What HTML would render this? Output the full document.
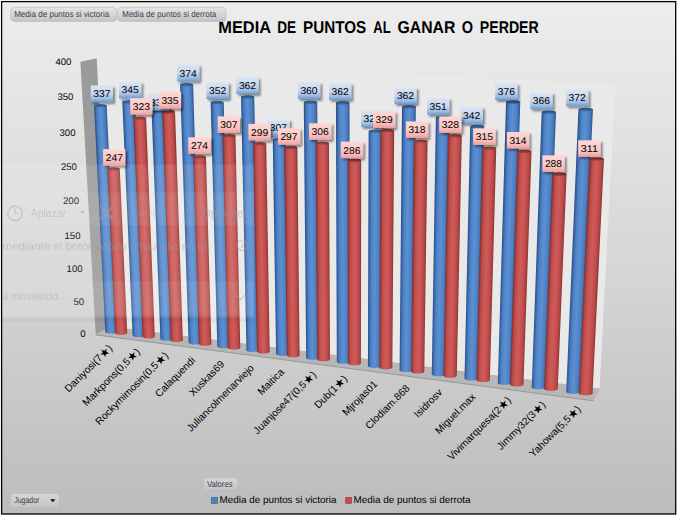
<!DOCTYPE html>
<html><head><meta charset="utf-8"><title>Media de puntos al ganar o perder</title>
<style>
html,body{margin:0;padding:0;background:#fff;}
svg{display:block;font-family:"Liberation Sans",sans-serif;text-rendering:geometricPrecision;}
.dl{font-size:9.9px;fill:#000;}
.ax{font-size:9.6px;fill:#000;}
.xl{font-size:10.25px;}
.st{font-size:11.6px;}
.bt{font-size:8.7px;fill:#38414f;}
.lg{font-size:9.9px;fill:#000;}
.tt{font-size:17.1px;font-weight:bold;fill:#000;}
.gh{font-size:11.5px;fill:#a2a2a2;}
</style></head><body>
<svg width="677" height="516" viewBox="0 0 677 516">
<defs>
<linearGradient id="bg" x1="0" y1="0" x2="0" y2="1"><stop offset="0" stop-color="#ededed"/><stop offset="0.5" stop-color="#d7d7d7"/><stop offset="1" stop-color="#bcbcbc"/></linearGradient>
<linearGradient id="gb" x1="0" y1="0" x2="1" y2="0"><stop offset="0" stop-color="#244c86"/><stop offset="0.1" stop-color="#3a67a6"/><stop offset="0.25" stop-color="#4f83c7"/><stop offset="0.5" stop-color="#5b90d3"/><stop offset="0.78" stop-color="#4d80c3"/><stop offset="0.9" stop-color="#3f6eae"/><stop offset="1" stop-color="#2c5690"/></linearGradient>
<linearGradient id="gr" x1="0" y1="0" x2="1" y2="0"><stop offset="0" stop-color="#7c2c2a"/><stop offset="0.1" stop-color="#a23f3d"/><stop offset="0.25" stop-color="#c3504e"/><stop offset="0.5" stop-color="#d05c5a"/><stop offset="0.78" stop-color="#bf4d4b"/><stop offset="0.9" stop-color="#a9423f"/><stop offset="1" stop-color="#8a3331"/></linearGradient>
<linearGradient id="tb" x1="0" y1="0" x2="1" y2="0"><stop offset="0" stop-color="#2e5890"/><stop offset="0.5" stop-color="#3d6ba7"/><stop offset="1" stop-color="#2b548b"/></linearGradient>
<linearGradient id="tr" x1="0" y1="0" x2="1" y2="0"><stop offset="0" stop-color="#903836"/><stop offset="0.5" stop-color="#a54341"/><stop offset="1" stop-color="#873331"/></linearGradient>
<linearGradient id="lb" x1="0" y1="0" x2="0" y2="1"><stop offset="0" stop-color="#dae5f3"/><stop offset="0.5" stop-color="#c4d6ee"/><stop offset="0.8" stop-color="#9dbce4"/><stop offset="1" stop-color="#6c9ad4"/></linearGradient>
<linearGradient id="lr" x1="0" y1="0" x2="0" y2="1"><stop offset="0" stop-color="#ffd6d4"/><stop offset="0.5" stop-color="#fccac8"/><stop offset="0.8" stop-color="#f6b8b5"/><stop offset="1" stop-color="#eb9e9b"/></linearGradient>
<linearGradient id="btn" x1="0" y1="0" x2="0" y2="1"><stop offset="0" stop-color="#e6e6e6"/><stop offset="0.5" stop-color="#d6d6d6"/><stop offset="1" stop-color="#c2c2c2"/></linearGradient>
<linearGradient id="btn2" x1="0" y1="0" x2="0" y2="1"><stop offset="0" stop-color="#d6d6d6"/><stop offset="1" stop-color="#c6c6c6"/></linearGradient>
<filter id="sh" x="-20%" y="-20%" width="150%" height="160%"><feDropShadow dx="2" dy="2" stdDeviation="1.3" flood-color="#000" flood-opacity="0.45"/></filter>
<linearGradient id="c0" href="#gb" gradientUnits="userSpaceOnUse" x1="99.67" y1="218.98" x2="112.02" y2="218.38"/>
<linearGradient id="c1" href="#gr" gradientUnits="userSpaceOnUse" x1="111.16" y1="251.21" x2="123.48" y2="250.64"/>
<linearGradient id="c2" href="#gb" gradientUnits="userSpaceOnUse" x1="127.47" y1="218.84" x2="139.93" y2="218.30"/>
<linearGradient id="c3" href="#gr" gradientUnits="userSpaceOnUse" x1="137.97" y1="227.60" x2="150.45" y2="227.09"/>
<linearGradient id="c4" href="#gb" gradientUnits="userSpaceOnUse" x1="156.00" y1="225.11" x2="168.56" y2="224.64"/>
<linearGradient id="c5" href="#gr" gradientUnits="userSpaceOnUse" x1="166.33" y1="226.11" x2="178.92" y2="225.66"/>
<linearGradient id="c6" href="#gb" gradientUnits="userSpaceOnUse" x1="184.37" y1="213.83" x2="197.07" y2="213.42"/>
<linearGradient id="c7" href="#gr" gradientUnits="userSpaceOnUse" x1="196.01" y1="250.68" x2="208.66" y2="250.30"/>
<linearGradient id="c8" href="#gb" gradientUnits="userSpaceOnUse" x1="213.99" y1="224.56" x2="226.77" y2="224.23"/>
<linearGradient id="c9" href="#gr" gradientUnits="userSpaceOnUse" x1="225.08" y1="241.87" x2="237.87" y2="241.57"/>
<linearGradient id="c10" href="#gb" gradientUnits="userSpaceOnUse" x1="243.75" y1="223.71" x2="256.65" y2="223.45"/>
<linearGradient id="c11" href="#gr" gradientUnits="userSpaceOnUse" x1="255.06" y1="247.74" x2="267.95" y2="247.51"/>
<linearGradient id="c12" href="#gb" gradientUnits="userSpaceOnUse" x1="274.42" y1="246.77" x2="287.38" y2="246.59"/>
<linearGradient id="c13" href="#gr" gradientUnits="userSpaceOnUse" x1="285.48" y1="251.52" x2="298.47" y2="251.36"/>
<linearGradient id="c14" href="#gb" gradientUnits="userSpaceOnUse" x1="304.99" y1="230.19" x2="318.11" y2="230.08"/>
<linearGradient id="c15" href="#gr" gradientUnits="userSpaceOnUse" x1="316.37" y1="251.30" x2="329.48" y2="251.23"/>
<linearGradient id="c16" href="#gb" gradientUnits="userSpaceOnUse" x1="336.38" y1="232.37" x2="349.62" y2="232.35"/>
<linearGradient id="c17" href="#gr" gradientUnits="userSpaceOnUse" x1="347.85" y1="261.84" x2="361.05" y2="261.85"/>
<linearGradient id="c18" href="#gb" gradientUnits="userSpaceOnUse" x1="368.28" y1="248.59" x2="381.60" y2="248.64"/>
<linearGradient id="c19" href="#gr" gradientUnits="userSpaceOnUse" x1="379.89" y1="248.96" x2="393.25" y2="249.04"/>
<linearGradient id="c20" href="#gb" gradientUnits="userSpaceOnUse" x1="400.82" y1="238.39" x2="414.28" y2="238.54"/>
<linearGradient id="c21" href="#gr" gradientUnits="userSpaceOnUse" x1="412.46" y1="256.30" x2="425.92" y2="256.47"/>
<linearGradient id="c22" href="#gb" gradientUnits="userSpaceOnUse" x1="433.82" y1="245.72" x2="447.39" y2="245.95"/>
<linearGradient id="c23" href="#gr" gradientUnits="userSpaceOnUse" x1="445.69" y1="255.71" x2="459.28" y2="255.98"/>
<linearGradient id="c24" href="#gb" gradientUnits="userSpaceOnUse" x1="467.36" y1="252.39" x2="481.04" y2="252.71"/>
<linearGradient id="c25" href="#gr" gradientUnits="userSpaceOnUse" x1="479.35" y1="264.01" x2="493.04" y2="264.37"/>
<linearGradient id="c26" href="#gb" gradientUnits="userSpaceOnUse" x1="501.95" y1="242.29" x2="515.79" y2="242.72"/>
<linearGradient id="c27" href="#gr" gradientUnits="userSpaceOnUse" x1="513.68" y1="267.77" x2="527.49" y2="268.22"/>
<linearGradient id="c28" href="#gb" gradientUnits="userSpaceOnUse" x1="536.72" y1="249.47" x2="550.66" y2="250.00"/>
<linearGradient id="c29" href="#gr" gradientUnits="userSpaceOnUse" x1="548.24" y1="281.36" x2="562.15" y2="281.91"/>
<linearGradient id="c30" href="#gb" gradientUnits="userSpaceOnUse" x1="572.34" y1="250.36" x2="586.41" y2="250.99"/>
<linearGradient id="c31" href="#gr" gradientUnits="userSpaceOnUse" x1="584.17" y1="275.88" x2="598.22" y2="276.55"/>
</defs>
<rect x="0" y="0" width="677" height="516" fill="#fff"/>
<rect x="1.6" y="1.6" width="674.1" height="512.4" fill="url(#bg)" stroke="#000" stroke-width="1.3"/>
<!-- walls -->
<polygon points="96.7,58.2 615.3,85.2 599.6,388.6 110.2,326.5" fill="#e9e9e9"/>
<polygon points="80.4,61.7 96.7,58.2 110.2,326.5 95.7,334.7" fill="#9b9b9b"/>
<polygon points="95.9,334.7 110.2,326.5 599.6,388.6 593.6,400.6" fill="#b7b7b7"/>
<line x1="95.9" y1="334.9" x2="593.6" y2="400.8" stroke="#979797" stroke-width="1"/>
<!-- cylinders -->
<path d="M94.04,105.63 L105.28,331.73 A6.05,1.9 0 0 0 117.37,331.73 L106.68,105.63 Z" fill="url(#c0)"/><ellipse cx="100.36" cy="105.63" rx="6.32" ry="1.7" fill="url(#tb)"/>
<path d="M107.23,168.84 L115.08,333.01 A6.06,1.9 0 0 0 127.20,333.01 L119.76,168.84 Z" fill="url(#c1)"/><ellipse cx="113.50" cy="168.84" rx="6.26" ry="1.7" fill="url(#tr)"/>
<path d="M122.29,101.84 L132.63,335.30 A6.09,1.9 0 0 0 144.82,335.30 L135.05,101.84 Z" fill="url(#c2)"/><ellipse cx="128.67" cy="101.84" rx="6.38" ry="1.7" fill="url(#tb)"/>
<path d="M133.34,118.09 L142.58,336.60 A6.11,1.9 0 0 0 154.80,336.60 L146.10,118.09 Z" fill="url(#c3)"/><ellipse cx="139.72" cy="118.09" rx="6.38" ry="1.7" fill="url(#tr)"/>
<path d="M151.58,110.83 L160.41,338.93 A6.14,1.9 0 0 0 172.70,338.93 L164.43,110.83 Z" fill="url(#c4)"/><ellipse cx="158.00" cy="110.83" rx="6.42" ry="1.7" fill="url(#tb)"/>
<path d="M162.13,111.53 L170.52,340.25 A6.16,1.9 0 0 0 182.84,340.25 L175.01,111.53 Z" fill="url(#c5)"/><ellipse cx="168.57" cy="111.53" rx="6.44" ry="1.7" fill="url(#tr)"/>
<path d="M180.10,84.64 L188.64,342.61 A6.19,1.9 0 0 0 201.02,342.61 L193.13,84.64 Z" fill="url(#c6)"/><ellipse cx="186.62" cy="84.64" rx="6.51" ry="1.7" fill="url(#tb)"/>
<path d="M193.11,157.03 L198.91,343.95 A6.21,1.9 0 0 0 211.33,343.95 L206.00,157.03 Z" fill="url(#c7)"/><ellipse cx="199.55" cy="157.03" rx="6.44" ry="1.7" fill="url(#tr)"/>
<path d="M210.65,102.44 L217.32,346.35 A6.24,1.9 0 0 0 229.80,346.35 L223.75,102.44 Z" fill="url(#c8)"/><ellipse cx="217.20" cy="102.44" rx="6.55" ry="1.7" fill="url(#tb)"/>
<path d="M222.41,135.72 L227.76,347.71 A6.26,1.9 0 0 0 240.28,347.71 L235.46,135.72 Z" fill="url(#c9)"/><ellipse cx="228.93" cy="135.72" rx="6.53" ry="1.7" fill="url(#tr)"/>
<path d="M241.02,97.01 L246.47,350.16 A6.29,1.9 0 0 0 259.05,350.16 L254.25,97.01 Z" fill="url(#c10)"/><ellipse cx="247.64" cy="97.01" rx="6.61" ry="1.7" fill="url(#tb)"/>
<path d="M253.05,143.71 L257.07,351.54 A6.31,1.9 0 0 0 269.69,351.54 L266.20,143.71 Z" fill="url(#c11)"/><ellipse cx="259.62" cy="143.71" rx="6.57" ry="1.7" fill="url(#tr)"/>
<path d="M272.75,139.34 L276.09,354.02 A6.34,1.9 0 0 0 288.77,354.02 L285.99,139.34 Z" fill="url(#c12)"/><ellipse cx="279.37" cy="139.34" rx="6.62" ry="1.7" fill="url(#tb)"/>
<path d="M284.09,147.45 L286.87,355.43 A6.36,1.9 0 0 0 299.60,355.43 L297.35,147.45 Z" fill="url(#c13)"/><ellipse cx="290.72" cy="147.45" rx="6.63" ry="1.7" fill="url(#tr)"/>
<path d="M303.77,102.31 L306.20,357.95 A6.40,1.9 0 0 0 318.99,357.95 L317.22,102.31 Z" fill="url(#c14)"/><ellipse cx="310.50" cy="102.31" rx="6.73" ry="1.7" fill="url(#tb)"/>
<path d="M315.59,143.15 L317.16,359.38 A6.41,1.9 0 0 0 329.99,359.38 L328.97,143.15 Z" fill="url(#c15)"/><ellipse cx="322.28" cy="143.15" rx="6.69" ry="1.7" fill="url(#tr)"/>
<path d="M335.95,102.77 L336.81,361.95 A6.45,1.9 0 0 0 349.71,361.95 L349.52,102.77 Z" fill="url(#c16)"/><ellipse cx="342.74" cy="102.77" rx="6.79" ry="1.7" fill="url(#tb)"/>
<path d="M347.74,160.29 L347.96,363.40 A6.47,1.9 0 0 0 360.89,363.40 L361.20,160.29 Z" fill="url(#c17)"/><ellipse cx="354.47" cy="160.29" rx="6.73" ry="1.7" fill="url(#tr)"/>
<path d="M368.63,131.22 L367.94,366.01 A6.50,1.9 0 0 0 380.94,366.01 L382.25,131.22 Z" fill="url(#c18)"/><ellipse cx="375.44" cy="131.22" rx="6.81" ry="1.7" fill="url(#tb)"/>
<path d="M380.51,130.51 L379.27,367.49 A6.52,1.9 0 0 0 392.32,367.49 L394.18,130.51 Z" fill="url(#c19)"/><ellipse cx="387.35" cy="130.51" rx="6.83" ry="1.7" fill="url(#tr)"/>
<path d="M402.05,106.79 L399.59,370.14 A6.56,1.9 0 0 0 412.70,370.14 L415.86,106.79 Z" fill="url(#c20)"/><ellipse cx="408.96" cy="106.79" rx="6.91" ry="1.7" fill="url(#tb)"/>
<path d="M413.81,141.12 L411.11,371.64 A6.58,1.9 0 0 0 424.27,371.64 L427.58,141.12 Z" fill="url(#c21)"/><ellipse cx="420.69" cy="141.12" rx="6.88" ry="1.7" fill="url(#tr)"/>
<path d="M435.86,117.33 L431.78,374.34 A6.61,1.9 0 0 0 445.01,374.34 L449.77,117.33 Z" fill="url(#c22)"/><ellipse cx="442.82" cy="117.33" rx="6.96" ry="1.7" fill="url(#tb)"/>
<path d="M447.88,135.82 L443.50,375.87 A6.63,1.9 0 0 0 456.77,375.87 L461.80,135.82 Z" fill="url(#c23)"/><ellipse cx="454.84" cy="135.82" rx="6.96" ry="1.7" fill="url(#tr)"/>
<path d="M470.20,126.49 L464.52,378.61 A6.67,1.9 0 0 0 477.87,378.61 L484.22,126.49 Z" fill="url(#c24)"/><ellipse cx="477.21" cy="126.49" rx="7.01" ry="1.7" fill="url(#tb)"/>
<path d="M482.23,148.20 L476.45,380.17 A6.69,1.9 0 0 0 489.83,380.17 L496.25,148.20 Z" fill="url(#c25)"/><ellipse cx="489.24" cy="148.20" rx="7.01" ry="1.7" fill="url(#tr)"/>
<path d="M506.06,102.05 L497.84,382.96 A6.73,1.9 0 0 0 511.30,382.96 L520.28,102.05 Z" fill="url(#c26)"/><ellipse cx="513.17" cy="102.05" rx="7.11" ry="1.7" fill="url(#tb)"/>
<path d="M517.37,151.45 L509.97,384.54 A6.75,1.9 0 0 0 523.47,384.54 L531.51,151.45 Z" fill="url(#c27)"/><ellipse cx="524.44" cy="151.45" rx="7.07" ry="1.7" fill="url(#tr)"/>
<path d="M541.69,112.08 L531.73,387.38 A6.79,1.9 0 0 0 545.31,387.38 L556.03,112.08 Z" fill="url(#c28)"/><ellipse cx="548.86" cy="112.08" rx="7.17" ry="1.7" fill="url(#tb)"/>
<path d="M552.39,174.28 L544.08,389.00 A6.81,1.9 0 0 0 557.70,389.00 L566.60,174.28 Z" fill="url(#c29)"/><ellipse cx="559.50" cy="174.28" rx="7.11" ry="1.7" fill="url(#tr)"/>
<path d="M578.43,109.46 L566.23,391.89 A6.85,1.9 0 0 0 579.92,391.89 L592.91,109.46 Z" fill="url(#c30)"/><ellipse cx="585.67" cy="109.46" rx="7.24" ry="1.7" fill="url(#tb)"/>
<path d="M589.54,158.91 L578.80,393.53 A6.87,1.9 0 0 0 592.54,393.53 L603.93,158.91 Z" fill="url(#c31)"/><ellipse cx="596.73" cy="158.91" rx="7.20" ry="1.7" fill="url(#tr)"/>
<!-- data labels -->
<rect x="90.7" y="85.5" width="22.3" height="16.6" fill="url(#lb)" filter="url(#sh)"/><text x="93.3" y="97.3" class="dl" textLength="17.2" lengthAdjust="spacingAndGlyphs">337</text>
<rect x="119.0" y="81.6" width="22.3" height="16.6" fill="url(#lb)" filter="url(#sh)"/><text x="121.6" y="93.4" class="dl" textLength="17.2" lengthAdjust="spacingAndGlyphs">345</text>
<rect x="147.5" y="93.9" width="22.3" height="16.6" fill="url(#lb)" filter="url(#sh)"/><text x="150.1" y="105.8" class="dl" textLength="17.2" lengthAdjust="spacingAndGlyphs">335</text>
<rect x="177.0" y="64.7" width="22.3" height="16.6" fill="url(#lb)" filter="url(#sh)"/><text x="179.6" y="76.5" class="dl" textLength="17.2" lengthAdjust="spacingAndGlyphs">374</text>
<rect x="206.4" y="82.4" width="22.3" height="16.6" fill="url(#lb)" filter="url(#sh)"/><text x="209.0" y="94.2" class="dl" textLength="17.2" lengthAdjust="spacingAndGlyphs">352</text>
<rect x="236.3" y="77.3" width="22.3" height="16.6" fill="url(#lb)" filter="url(#sh)"/><text x="238.9" y="89.2" class="dl" textLength="17.2" lengthAdjust="spacingAndGlyphs">362</text>
<rect x="267.3" y="119.4" width="22.3" height="16.6" fill="url(#lb)" filter="url(#sh)"/><text x="269.8" y="131.2" class="dl" textLength="17.2" lengthAdjust="spacingAndGlyphs">307</text>
<rect x="297.9" y="82.3" width="22.3" height="16.6" fill="url(#lb)" filter="url(#sh)"/><text x="300.4" y="94.2" class="dl" textLength="17.2" lengthAdjust="spacingAndGlyphs">360</text>
<rect x="329.0" y="83.2" width="22.3" height="16.6" fill="url(#lb)" filter="url(#sh)"/><text x="331.5" y="95.0" class="dl" textLength="17.2" lengthAdjust="spacingAndGlyphs">362</text>
<rect x="361.1" y="110.4" width="22.3" height="16.6" fill="url(#lb)" filter="url(#sh)"/><text x="363.6" y="122.2" class="dl" textLength="17.2" lengthAdjust="spacingAndGlyphs">327</text>
<rect x="394.4" y="87.4" width="22.3" height="16.6" fill="url(#lb)" filter="url(#sh)"/><text x="396.9" y="99.2" class="dl" textLength="17.2" lengthAdjust="spacingAndGlyphs">362</text>
<rect x="427.1" y="98.2" width="22.3" height="16.6" fill="url(#lb)" filter="url(#sh)"/><text x="429.6" y="110.0" class="dl" textLength="17.2" lengthAdjust="spacingAndGlyphs">351</text>
<rect x="460.6" y="107.1" width="22.3" height="16.6" fill="url(#lb)" filter="url(#sh)"/><text x="463.1" y="118.9" class="dl" textLength="17.2" lengthAdjust="spacingAndGlyphs">342</text>
<rect x="495.2" y="83.4" width="22.3" height="16.6" fill="url(#lb)" filter="url(#sh)"/><text x="497.7" y="95.2" class="dl" textLength="17.2" lengthAdjust="spacingAndGlyphs">376</text>
<rect x="530.3" y="92.6" width="22.3" height="16.6" fill="url(#lb)" filter="url(#sh)"/><text x="532.8" y="104.4" class="dl" textLength="17.2" lengthAdjust="spacingAndGlyphs">366</text>
<rect x="566.1" y="89.6" width="22.3" height="16.6" fill="url(#lb)" filter="url(#sh)"/><text x="568.6" y="101.4" class="dl" textLength="17.2" lengthAdjust="spacingAndGlyphs">372</text>
<rect x="103.1" y="149.1" width="22.3" height="16.6" fill="url(#lr)" filter="url(#sh)"/><text x="105.7" y="161.0" class="dl" textLength="17.2" lengthAdjust="spacingAndGlyphs">247</text>
<rect x="130.2" y="98.2" width="22.3" height="16.6" fill="url(#lr)" filter="url(#sh)"/><text x="132.8" y="110.0" class="dl" textLength="17.2" lengthAdjust="spacingAndGlyphs">323</text>
<rect x="158.8" y="92.1" width="22.3" height="16.6" fill="url(#lr)" filter="url(#sh)"/><text x="161.4" y="103.9" class="dl" textLength="17.2" lengthAdjust="spacingAndGlyphs">335</text>
<rect x="188.3" y="137.3" width="22.3" height="16.6" fill="url(#lr)" filter="url(#sh)"/><text x="190.9" y="149.2" class="dl" textLength="17.2" lengthAdjust="spacingAndGlyphs">274</text>
<rect x="217.7" y="116.4" width="22.3" height="16.6" fill="url(#lr)" filter="url(#sh)"/><text x="220.2" y="128.2" class="dl" textLength="17.2" lengthAdjust="spacingAndGlyphs">307</text>
<rect x="248.4" y="123.9" width="22.3" height="16.6" fill="url(#lr)" filter="url(#sh)"/><text x="251.0" y="135.8" class="dl" textLength="17.2" lengthAdjust="spacingAndGlyphs">299</text>
<rect x="277.9" y="128.2" width="22.3" height="16.6" fill="url(#lr)" filter="url(#sh)"/><text x="280.4" y="140.1" class="dl" textLength="17.2" lengthAdjust="spacingAndGlyphs">297</text>
<rect x="309.1" y="123.3" width="22.3" height="16.6" fill="url(#lr)" filter="url(#sh)"/><text x="311.6" y="135.2" class="dl" textLength="17.2" lengthAdjust="spacingAndGlyphs">306</text>
<rect x="340.8" y="141.6" width="22.3" height="16.6" fill="url(#lr)" filter="url(#sh)"/><text x="343.3" y="153.5" class="dl" textLength="17.2" lengthAdjust="spacingAndGlyphs">286</text>
<rect x="373.0" y="111.4" width="22.3" height="16.6" fill="url(#lr)" filter="url(#sh)"/><text x="375.5" y="123.2" class="dl" textLength="17.2" lengthAdjust="spacingAndGlyphs">329</text>
<rect x="405.9" y="121.4" width="22.3" height="16.6" fill="url(#lr)" filter="url(#sh)"/><text x="408.4" y="133.3" class="dl" textLength="17.2" lengthAdjust="spacingAndGlyphs">318</text>
<rect x="439.2" y="116.4" width="22.3" height="16.6" fill="url(#lr)" filter="url(#sh)"/><text x="441.7" y="128.2" class="dl" textLength="17.2" lengthAdjust="spacingAndGlyphs">328</text>
<rect x="473.2" y="128.4" width="22.3" height="16.6" fill="url(#lr)" filter="url(#sh)"/><text x="475.7" y="140.3" class="dl" textLength="17.2" lengthAdjust="spacingAndGlyphs">315</text>
<rect x="506.9" y="132.0" width="22.3" height="16.6" fill="url(#lr)" filter="url(#sh)"/><text x="509.4" y="143.9" class="dl" textLength="17.2" lengthAdjust="spacingAndGlyphs">314</text>
<rect x="542.4" y="155.4" width="22.3" height="16.6" fill="url(#lr)" filter="url(#sh)"/><text x="544.9" y="167.3" class="dl" textLength="17.2" lengthAdjust="spacingAndGlyphs">288</text>
<rect x="578.2" y="140.3" width="22.3" height="16.6" fill="url(#lr)" filter="url(#sh)"/><text x="580.8" y="152.2" class="dl" textLength="17.2" lengthAdjust="spacingAndGlyphs">311</text>
<!-- axes -->
<text x="71.4" y="64.6" class="ax" text-anchor="end">400</text>
<text x="73.4" y="100.4" class="ax" text-anchor="end">350</text>
<text x="75.5" y="135.6" class="ax" text-anchor="end">300</text>
<text x="76.9" y="170.4" class="ax" text-anchor="end">250</text>
<text x="79" y="204.4" class="ax" text-anchor="end">200</text>
<text x="80.5" y="238.6" class="ax" text-anchor="end">150</text>
<text x="82.6" y="271.7" class="ax" text-anchor="end">100</text>
<text x="84.1" y="304.7" class="ax" text-anchor="end">50</text>
<text x="85.6" y="337.4" class="ax" text-anchor="end">0</text>
<text transform="translate(112.9,348.8) rotate(-45)" class="ax xl" text-anchor="end">Daniyosi(7<tspan class="st" dy="0.5">★</tspan><tspan dy="-0.5">)</tspan></text>
<text transform="translate(140.7,352.4) rotate(-45)" class="ax xl" text-anchor="end">Markpons(0,5<tspan class="st" dy="0.5">★</tspan><tspan dy="-0.5">)</tspan></text>
<text transform="translate(168.8,356.1) rotate(-45)" class="ax xl" text-anchor="end">Rockymimosin(0,5<tspan class="st" dy="0.5">★</tspan><tspan dy="-0.5">)</tspan></text>
<text transform="translate(195.9,361.0) rotate(-45)" class="ax xl" text-anchor="end">Calaquendi</text>
<text transform="translate(225.0,364.8) rotate(-45)" class="ax xl" text-anchor="end">Xuskas69</text>
<text transform="translate(254.6,368.7) rotate(-45)" class="ax xl" text-anchor="end">Juliancolmenarviejo</text>
<text transform="translate(284.7,372.6) rotate(-45)" class="ax xl" text-anchor="end">Maitica</text>
<text transform="translate(316.9,375.4) rotate(-45)" class="ax xl" text-anchor="end">Juanjose47(0,5<tspan class="st" dy="0.5">★</tspan><tspan dy="-0.5">)</tspan></text>
<text transform="translate(348.0,379.4) rotate(-45)" class="ax xl" text-anchor="end">Dub(1<tspan class="st" dy="0.5">★</tspan><tspan dy="-0.5">)</tspan></text>
<text transform="translate(378.0,384.8) rotate(-45)" class="ax xl" text-anchor="end">Mjrojas01</text>
<text transform="translate(410.2,389.0) rotate(-45)" class="ax xl" text-anchor="end">Clodiam.868</text>
<text transform="translate(442.9,393.2) rotate(-45)" class="ax xl" text-anchor="end">Isidrosv</text>
<text transform="translate(476.2,397.6) rotate(-45)" class="ax xl" text-anchor="end">Miguel.max</text>
<text transform="translate(511.7,400.8) rotate(-45)" class="ax xl" text-anchor="end">Vivimarquesa(2<tspan class="st" dy="0.5">★</tspan><tspan dy="-0.5">)</tspan></text>
<text transform="translate(546.2,405.3) rotate(-45)" class="ax xl" text-anchor="end">Jimmy32(3<tspan class="st" dy="0.5">★</tspan><tspan dy="-0.5">)</tspan></text>
<text transform="translate(581.3,409.8) rotate(-45)" class="ax xl" text-anchor="end">Yahowa(5,5<tspan class="st" dy="0.5">★</tspan><tspan dy="-0.5">)</tspan></text>
<!-- title -->
<g class="tt">
<text x="218.3" y="32.6" textLength="52.7" lengthAdjust="spacingAndGlyphs">MEDIA</text>
<text x="277.3" y="32.6" textLength="18.9" lengthAdjust="spacingAndGlyphs">DE</text>
<text x="303" y="32.6" textLength="63.3" lengthAdjust="spacingAndGlyphs">PUNTOS</text>
<text x="373.3" y="32.6" textLength="17.3" lengthAdjust="spacingAndGlyphs">AL</text>
<text x="397.6" y="32.6" textLength="57.8" lengthAdjust="spacingAndGlyphs">GANAR</text>
<text x="461.7" y="32.6" textLength="11.3" lengthAdjust="spacingAndGlyphs">O</text>
<text x="479.8" y="32.6" textLength="59" lengthAdjust="spacingAndGlyphs">PERDER</text>
</g>
<!-- field buttons -->
<rect x="10.5" y="7.3" width="106.3" height="14.2" rx="4" fill="url(#btn)" stroke="#c0c0c0" stroke-width="0.8"/>
<rect x="117.5" y="7.3" width="108.5" height="14.2" rx="4" fill="url(#btn)" stroke="#c0c0c0" stroke-width="0.8"/>
<text x="14.2" y="17" class="bt" textLength="95" lengthAdjust="spacingAndGlyphs">Media de puntos si victoria</text>
<text x="122.3" y="17" class="bt" textLength="94" lengthAdjust="spacingAndGlyphs">Media de puntos si derrota</text>
<rect x="204.2" y="478.3" width="32.6" height="11.1" rx="2" fill="url(#btn2)"/>
<text x="207" y="487" class="bt" textLength="25.5" lengthAdjust="spacingAndGlyphs">Valores</text>
<rect x="11" y="493.9" width="47.9" height="13" rx="2" fill="url(#btn2)"/>
<text x="14.2" y="503.3" class="bt" textLength="25.2" lengthAdjust="spacingAndGlyphs">Jugador</text>
<polygon points="50.2,499.3 55.4,499.3 52.8,502.2" fill="#111"/>
<!-- legend -->
<rect x="211.6" y="497.5" width="5.8" height="5.8" fill="#4f81bd" stroke="#3a64a0" stroke-width="0.7"/>
<text x="219.5" y="502.6" class="lg" textLength="117" lengthAdjust="spacingAndGlyphs">Media de puntos si victoria</text>
<rect x="345.7" y="497.5" width="5.8" height="5.8" fill="#c0504d" stroke="#9c3b39" stroke-width="0.7"/>
<text x="353.6" y="502.6" class="lg" textLength="117" lengthAdjust="spacingAndGlyphs">Media de puntos si derrota</text>
<!-- ghost overlay -->
<g>
<rect x="2.2" y="164.6" width="252" height="153" fill="#fff" opacity="0.10"/>
<rect x="2.2" y="192.5" width="252" height="33" fill="#fff" opacity="0.07"/>
<rect x="2.2" y="281.5" width="252" height="33" fill="#fff" opacity="0.07"/>
<rect x="2.2" y="317.6" width="252" height="4" fill="#000" opacity="0.035"/>
<g class="gh" opacity="0.45">
<circle cx="15" cy="213.3" r="7.2" fill="none" stroke="#a2a2a2" stroke-width="1.4"/>
<path d="M15,208.5 V213.5 H18.5" fill="none" stroke="#a2a2a2" stroke-width="1.2"/>
<text x="30.7" y="216.8" textLength="35.6" lengthAdjust="spacingAndGlyphs">Aplazar</text>
<path d="M80,211 h5.4 l-2.7,3.2 z" fill="#a2a2a2"/>
<path d="M100.5,206.5 l12.5,13 M113,206.5 l-12.5,13" stroke="#a2a2a2" stroke-width="2.6" fill="none"/>
<text x="131" y="216.8" textLength="30" lengthAdjust="spacingAndGlyphs" opacity="0.6">Cancelar</text>
<text x="202" y="216.8" textLength="47" lengthAdjust="spacingAndGlyphs">Opciones</text>
<text x="2.5" y="249.6" textLength="204" lengthAdjust="spacingAndGlyphs">mediante el botón Modo o haz clic en el</text>
<circle cx="242.3" cy="245.3" r="5.3" fill="none" stroke="#a2a2a2" stroke-width="1.2"/>
<path d="M242.3,243.8 v4.2 M242.3,241.6 v1" stroke="#a2a2a2" stroke-width="1.2"/>
<text x="2.5" y="299.5" textLength="64.5" lengthAdjust="spacingAndGlyphs">á moviendo...</text>
<path d="M236,295 l4.5,4.3 l4.5,-4.3" stroke="#a2a2a2" stroke-width="1.2" fill="none"/>
</g>
</g>
</svg>
</body></html>
